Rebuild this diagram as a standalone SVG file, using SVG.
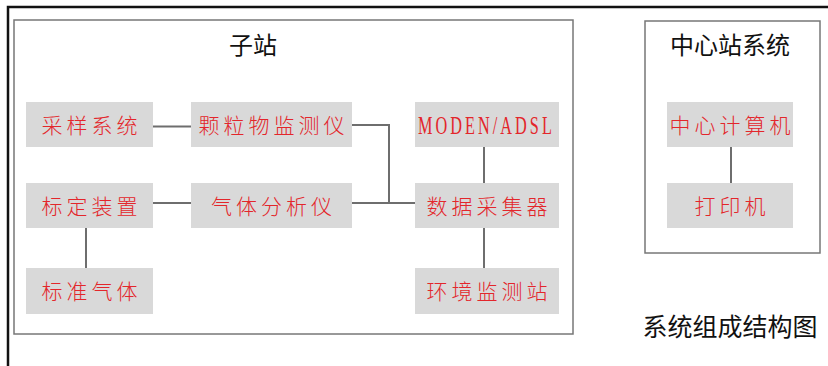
<svg xmlns="http://www.w3.org/2000/svg" width="828" height="366" viewBox="0 0 828 366">
<style>
.frame{fill:none;stroke:#111;stroke-width:2.5}
.group{fill:#fff;stroke:#777;stroke-width:1.5}
.box{fill:#d9d9d9}
.lbl{font-family:"Noto Sans CJK SC","Noto Sans",sans-serif;font-size:21px;font-weight:300;fill:#e3262b;text-anchor:middle;letter-spacing:4px}
.latin{font-family:"Liberation Serif",serif;font-size:25px;fill:#e3262b}
.title{font-family:"Noto Sans CJK SC","Noto Sans",sans-serif;font-size:24px;fill:#111;text-anchor:middle}
.cap{font-family:"Noto Sans CJK SC","Noto Sans",sans-serif;font-size:25px;fill:#111;text-anchor:middle}
.conn{fill:none;stroke:#6e6e6e;stroke-width:2}
</style>
<rect width="828" height="366" fill="#fff"/>
<rect class="frame" x="8" y="7" width="840" height="380"/>
<g id="substation">
<rect class="group" x="14" y="20" width="559" height="314"/>
<text class="title" x="253" y="54">子站</text>
</g>
<g id="center">
<rect class="group" x="645" y="21" width="175" height="232"/>
<text class="title" x="730" y="54">中心站系统</text>
</g>
<g id="connectors">
<path class="conn" d="M153 126.5H191"/>
<path class="conn" d="M352 125H389V202"/>
<path class="conn" d="M153 203H191"/>
<path class="conn" d="M352 203H415"/>
<path class="conn" d="M86 228V268"/>
<path class="conn" d="M484 147V183"/>
<path class="conn" d="M484 228V268"/>
<path class="conn" d="M731 147V183"/>
</g>
<g id="n1"><rect class="box" x="26" y="102" width="127" height="45"/><text class="lbl" x="91.5" y="132.5">采样系统</text></g>
<g id="n2"><rect class="box" x="191" y="102" width="161" height="45"/><text class="lbl" x="273.5" y="132.5">颗粒物监测仪</text></g>
<g id="n3"><rect class="box" x="26" y="183" width="127" height="45"/><text class="lbl" x="91.5" y="213.5">标定装置</text></g>
<g id="n4"><rect class="box" x="191" y="183" width="161" height="45"/><text class="lbl" x="273.5" y="213.5">气体分析仪</text></g>
<g id="n5"><rect class="box" x="26" y="268" width="127" height="46"/><text class="lbl" x="91.5" y="299">标准气体</text></g>
<g id="n6"><rect class="box" x="415" y="102" width="144" height="45"/><text class="latin" transform="scale(0.65 1)" x="643" y="134" textLength="206" lengthAdjust="spacing">MODEN/ADSL</text></g>
<g id="n7"><rect class="box" x="415" y="183" width="144" height="45"/><text class="lbl" x="489" y="213.5">数据采集器</text></g>
<g id="n8"><rect class="box" x="415" y="268" width="144" height="46"/><text class="lbl" x="489" y="299">环境监测站</text></g>
<g id="n9"><rect class="box" x="667" y="102" width="126" height="45"/><text class="lbl" x="732" y="132.5">中心计算机</text></g>
<g id="n10"><rect class="box" x="667" y="183" width="126" height="45"/><text class="lbl" x="732" y="213.5">打印机</text></g>
<text id="caption" class="cap" x="730" y="336">系统组成结构图</text>
</svg>
